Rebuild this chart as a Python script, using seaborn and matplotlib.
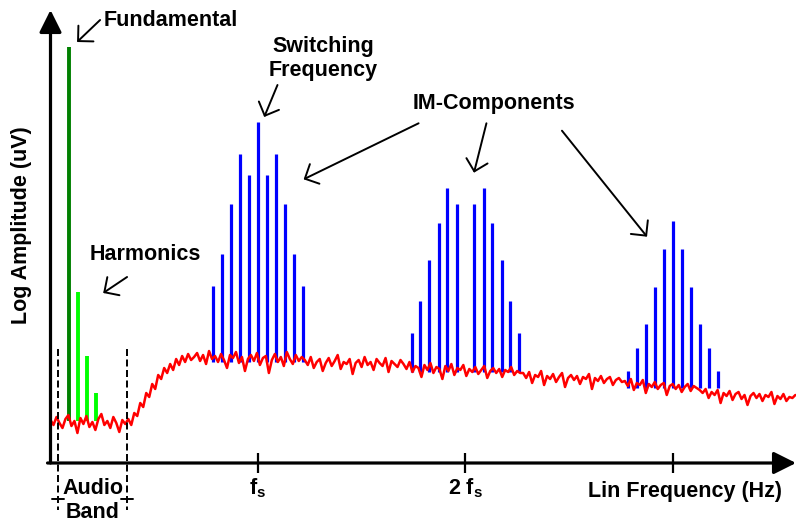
import numpy as np
import matplotlib
matplotlib.use("Agg")
import matplotlib.pyplot as plt
import seaborn as sns

# ---------------- data (frequency in units of f_s, amplitude in arbitrary log units) ----------
noise_amp = [
    43, 38, 46, 40, 35, 44, 48, 37, 42, 30, 45, 39, 47, 36, 41, 33, 44, 49, 38, 42,
    35, 46, 40, 31, 43, 39, 44,
    38, 50, 47, 60, 56, 70, 66, 79, 74, 88, 84, 95, 90, 99, 93, 104, 98, 107, 101, 109, 103,
    106, 110, 102, 108, 99, 112, 104, 107, 101, 109, 103, 95, 108, 105, 111, 100, 106, 92, 104, 108,
    102, 110, 98, 105, 107, 90, 103, 109, 101, 106, 97, 111, 104, 99, 108, 102, 106,
    103, 98, 106, 95, 101, 104, 92, 100, 105, 97, 102, 108, 94, 101, 99, 104, 89, 100, 103, 96,
    106, 98, 101, 93, 104, 100, 97, 105, 91, 102, 99, 96, 103,
    99, 94, 101, 91, 97, 95, 86, 98, 93, 100, 90, 96, 94, 84, 97, 92, 99, 88, 95, 93,
    98, 87, 94, 91, 96, 89, 93, 97, 85, 92, 95, 90, 94, 86, 93, 91, 96, 88, 92, 90,
    90, 85, 91, 80, 88, 86, 92, 78, 87, 84, 89, 81, 86, 90, 76, 85, 88, 83, 87, 79,
    86, 84, 89, 74, 85, 82, 87, 80, 84, 86, 78, 83, 85, 81,
    82, 77, 84, 73, 80, 78, 83, 70, 79, 76, 81, 74, 78, 80, 68, 77, 79, 74, 78, 71,
    76, 79, 72, 77, 75, 73,
    70, 74, 65, 71, 68, 73, 60, 70, 67, 72, 63, 69, 71, 64, 68, 58, 67, 70, 65, 69,
    62, 68, 66, 71, 59, 67, 64, 69, 62, 66, 65, 68,
]
noise_freq = np.linspace(0.0, 3.59, len(noise_amp))   # sampling grid of the noise floor

fund_freq = [0.090]
fund_amp = [416]
harm_freq = [0.131, 0.176, 0.219]
harm_amp = [171, 107, 70]
audio_floor = 42

sw_freq = [0.783, 0.826, 0.870, 0.913, 0.957, 1.000, 1.043, 1.087, 1.130, 1.174, 1.217]
sw_amp = [177, 209, 259, 309, 288, 341, 288, 309, 259, 209, 177]
sw_floor = 101

im2_freq = [1.740, 1.783, 1.826, 1.870, 1.913, 1.957, 2.043, 2.087, 2.130, 2.174, 2.217, 2.260]
im2_amp = [130, 162, 203, 240, 275, 259, 259, 275, 240, 203, 162, 130]
im2_floor = 91

im3_freq = [2.783, 2.826, 2.870, 2.913, 2.957, 3.000, 3.043, 3.087, 3.130, 3.174, 3.217]
im3_amp = [92, 115, 139, 176, 214, 242, 214, 176, 139, 115, 92]
im3_floor = 75

audio_band = [0.036, 0.369]
tick_pos = [1, 2, 3]
tick_labels = ["f$_s$", "2 f$_s$", ""]

# ---------------- style ----------------
sns.set_theme(style="white")
plt.rcParams["font.family"] = ["Liberation Sans", "DejaVu Sans"]
plt.rcParams["font.weight"] = "bold"
plt.rcParams["text.color"] = "black"
plt.rcParams["axes.labelcolor"] = "black"
plt.rcParams["xtick.color"] = "black"
plt.rcParams["mathtext.fontset"] = "custom"
plt.rcParams["mathtext.rm"] = "Liberation Sans:bold"
plt.rcParams["mathtext.it"] = "Liberation Sans:bold"
plt.rcParams["mathtext.bf"] = "Liberation Sans:bold"
plt.rcParams["mathtext.default"] = "rm"

FS = 15.5
W, H = 796, 521
fig = plt.figure(figsize=(W / 100, H / 100), dpi=100)
ax = fig.add_axes([50.5 / W, 58 / H, (W - 50.5) / W, 453 / H])
ax.set_xlim(0, 3.593)
ax.set_ylim(0, 453)
for s in ax.spines.values():
    s.set_visible(False)

# axes arrows
arrow_kw = dict(arrowstyle="-|>", lw=2.3, color="black", mutation_scale=34,
                shrinkA=0, shrinkB=0)
ax.annotate("", xy=(0, 1), xytext=(0, 0), xycoords="axes fraction",
            textcoords="axes fraction", arrowprops=arrow_kw, zorder=6)
ax.annotate("", xy=(1, 0), xytext=(-0.004, 0), xycoords="axes fraction",
            textcoords="axes fraction", arrowprops=arrow_kw, zorder=6)

# spectral lines
ax.vlines(fund_freq, audio_floor, fund_amp, color="#008000", lw=2.8, zorder=2)
ax.vlines(harm_freq, audio_floor, harm_amp, color="#00FF00", lw=2.8, zorder=2)
ax.vlines(sw_freq, sw_floor, sw_amp, color="#0000FF", lw=2.3, zorder=2)
ax.vlines(im2_freq, im2_floor, im2_amp, color="#0000FF", lw=2.3, zorder=2)
ax.vlines(im3_freq, im3_floor, im3_amp, color="#0000FF", lw=2.3, zorder=2)

# noise floor
sns.lineplot(x=noise_freq, y=noise_amp, color="#FF0000", lw=1.8, ax=ax, zorder=3)

# audio band markers
for fb in audio_band:
    ax.plot([fb, fb], [114, -47], color="black", lw=1.4, dashes=(3.6, 1.8),
            clip_on=False, zorder=4)
    ax.plot([fb - 0.031, fb + 0.031], [-36, -36], color="black", lw=1.4,
            clip_on=False, zorder=4)
ax.text(np.mean(audio_band), -25, "Audio", ha="center", va="center", fontsize=FS,
        fontweight="bold", clip_on=False)
ax.text(np.mean(audio_band), -49, "Band", ha="center", va="center", fontsize=FS,
        fontweight="bold", clip_on=False)

# ticks
ax.set_yticks([])
ax.set_xticks(tick_pos)
ax.set_xticklabels(tick_labels, fontsize=FS, fontweight="bold", color="black")
ax.tick_params(axis="x", bottom=True, direction="inout", length=15, width=1.6,
               color="black", pad=2)
ax.text(3.058, -29, "Lin Frequency (Hz)", ha="center", va="center", fontsize=FS,
        fontweight="bold", clip_on=False)
fig.text(22 / W, 1 - 225 / H, "Log Amplitude (uV)", rotation=90, ha="center",
         va="center", fontsize=FS, fontweight="bold")

# annotations
ann = dict(arrowstyle="->,head_length=0.56,head_width=0.56", lw=1.4, color="black",
           mutation_scale=14, shrinkA=0, shrinkB=0)
ax.text(0.258, 443, "Fundamental", ha="left", va="center", fontsize=FS, fontweight="bold")
ax.annotate("", xy=(0.128, 421), xytext=(0.239, 443), arrowprops=ann)

ax.text(0.456, 208, "Harmonics", ha="center", va="center", fontsize=FS, fontweight="bold")
ax.annotate("", xy=(0.254, 170), xytext=(0.369, 186), arrowprops=ann)

ax.text(1.313, 404.5, "Switching\nFrequency", ha="center", va="center", fontsize=FS,
        fontweight="bold", linespacing=1.15)
ax.annotate("", xy=(1.030, 346), xytext=(1.094, 378), arrowprops=ann)

ax.text(2.137, 359, "IM-Components", ha="center", va="center", fontsize=FS,
        fontweight="bold")
ax.annotate("", xy=(1.220, 283.7), xytext=(1.774, 339.7), arrowprops=ann)
ax.annotate("", xy=(2.041, 290.3), xytext=(2.101, 339.7), arrowprops=ann)
ax.annotate("", xy=(2.875, 226.3), xytext=(2.465, 332.3), arrowprops=ann)

fig.savefig("out.png", dpi=100)
